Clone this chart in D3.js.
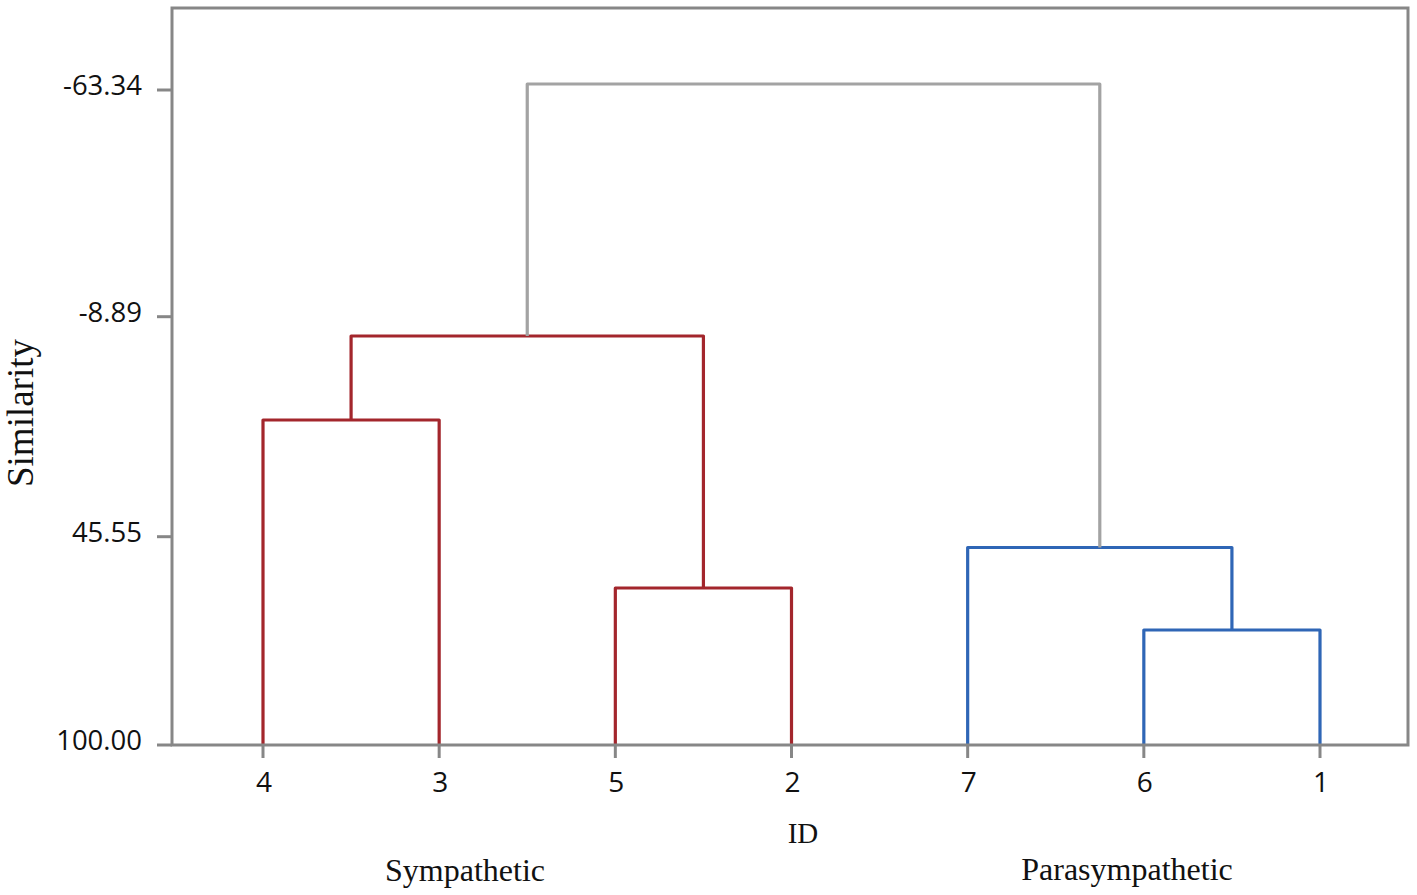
<!DOCTYPE html>
<html lang="en">
    <head>
        <meta charset="utf-8">
        <title>Dendrogram - Similarity</title>
        <script type="text/javascript" src="https://cdn.jsdelivr.net/npm/d3@7"></script>
        <style>
            body { margin: 0; background: white; }
        </style>
    </head>
    <body>
        <script type="text/javascript">
            const w = 1417
            const h = 895

            // leaves in drawing order, and the group each one belongs to
            const leaves = ["4", "3", "5", "2", "7", "6", "1"]
            const leafGroup = ["Sympathetic", "Sympathetic", "Sympathetic", "Sympathetic",
                               "Parasympathetic", "Parasympathetic", "Parasympathetic"]

            // amalgamation steps: cluster a joins cluster b at similarity level
            // new clusters get ids 8, 9, 10 ... in step order
            const joinA = ["6", "5", "7", "4", "11", "12"]
            const joinB = ["1", "2", "8", "3", "9", "10"]
            const joinLevel = [69.94, 58.96, 48.37, 16.67, -4.11, -64.78]

            const yTicks = [100.00, 45.55, -8.89, -63.34]
            const yTickLabels = ["100.00", "45.55", "-8.89", "-63.34"]

            const groupColor = {"Sympathetic": "#a3262c", "Parasympathetic": "#2f66b6"}
            const mixedColor = "#a3a3a3"
            const frameColor = "#878787"

            let svg = d3.select("body")
                        .append("svg")
                            .attr("width", w)
                            .attr("height", h)

            const plotLeft = 172, plotRight = 1408, plotTop = 8, plotBottom = 745

            let x = d3.scalePoint()
                      .domain(leaves)
                      .range([263, 1320])

            // the printed axis is not evenly spaced, so map each tick to where it sits
            let y = d3.scaleLinear()
                      .domain(yTicks)
                      .range([745, 536.7, 316.7, 90])

            // build the cluster nodes
            let nodes = {}
            leaves.forEach((id, i) => {
                nodes[id] = {x: x(id), level: 100, groups: [leafGroup[i]]}
            })
            let merges = []
            for (let i = 0; i < joinA.length; i += 1) {
                let a = nodes[joinA[i]]
                let b = nodes[joinB[i]]
                let node = {
                    x: (a.x + b.x) / 2,
                    level: joinLevel[i],
                    groups: Array.from(new Set(a.groups.concat(b.groups)))
                }
                nodes[String(8 + i)] = node
                merges.push({a: a, b: b, node: node})
            }

            function mergeColor(m) {
                if (m.node.groups.length === 1) { return groupColor[m.node.groups[0]] }
                return mixedColor
            }

            svg.selectAll(".link")
                .data(merges)
                .enter()
                .append("path")
                    .attr("class", "link")
                    .attr("d", d => "M" + d.a.x + "," + y(d.a.level)
                                  + "V" + y(d.node.level)
                                  + "H" + d.b.x
                                  + "V" + y(d.b.level))
                    .attr("fill", "none")
                    .attr("stroke", d => mergeColor(d))
                    .attr("stroke-width", 3.2)
                    .attr("stroke-linejoin", "round")

            // frame
            svg.append("rect")
                .attr("x", plotLeft)
                .attr("y", plotTop)
                .attr("width", plotRight - plotLeft)
                .attr("height", plotBottom - plotTop)
                .attr("fill", "none")
                .attr("stroke", frameColor)
                .attr("stroke-width", 3)

            // y ticks
            svg.selectAll(".ytick")
                .data(yTicks)
                .enter()
                .append("line")
                    .attr("class", "ytick")
                    .attr("x1", plotLeft - 15)
                    .attr("x2", plotLeft)
                    .attr("y1", d => y(d))
                    .attr("y2", d => y(d))
                    .attr("stroke", frameColor)
                    .attr("stroke-width", 3)
            svg.selectAll(".ylabel")
                .data(yTicks)
                .enter()
                .append("text")
                    .attr("class", "ylabel")
                    .attr("x", 142)
                    .attr("y", d => y(d) + 5)
                    .attr("text-anchor", "end")
                    .attr("font-family", "Open Sans")
                    .attr("font-size", "27.5px")
                    .attr("fill", "#111")
                    .text((d, i) => yTickLabels[i])

            // x ticks
            svg.selectAll(".xtick")
                .data(leaves)
                .enter()
                .append("line")
                    .attr("class", "xtick")
                    .attr("x1", d => x(d))
                    .attr("x2", d => x(d))
                    .attr("y1", plotBottom)
                    .attr("y2", plotBottom + 13)
                    .attr("stroke", frameColor)
                    .attr("stroke-width", 3)
            svg.selectAll(".xlabel")
                .data(leaves)
                .enter()
                .append("text")
                    .attr("class", "xlabel")
                    .attr("x", d => x(d) + 1)
                    .attr("y", 792)
                    .attr("text-anchor", "middle")
                    .attr("font-family", "Open Sans")
                    .attr("font-size", "28px")
                    .attr("fill", "#111")
                    .text(d => d)

            // axis titles
            svg.append("text")
                .attr("x", 803)
                .attr("y", 843)
                .attr("text-anchor", "middle")
                .attr("font-family", "Liberation Serif")
                .attr("font-size", "29px")
                .attr("fill", "#111")
                .text("ID")
            svg.append("text")
                .attr("transform", "translate(33,413) rotate(-90)")
                .attr("text-anchor", "middle")
                .attr("font-family", "Liberation Serif")
                .attr("font-size", "37px")
                .attr("fill", "#111")
                .text("Similarity")

            // group captions
            svg.append("text")
                .attr("x", 465)
                .attr("y", 881)
                .attr("text-anchor", "middle")
                .attr("font-family", "Liberation Serif")
                .attr("font-size", "32px")
                .attr("fill", "#111")
                .text("Sympathetic")
            svg.append("text")
                .attr("x", 1127)
                .attr("y", 880)
                .attr("text-anchor", "middle")
                .attr("font-family", "Liberation Serif")
                .attr("font-size", "32px")
                .attr("fill", "#111")
                .text("Parasympathetic")
        </script>
    </body>
</html>
